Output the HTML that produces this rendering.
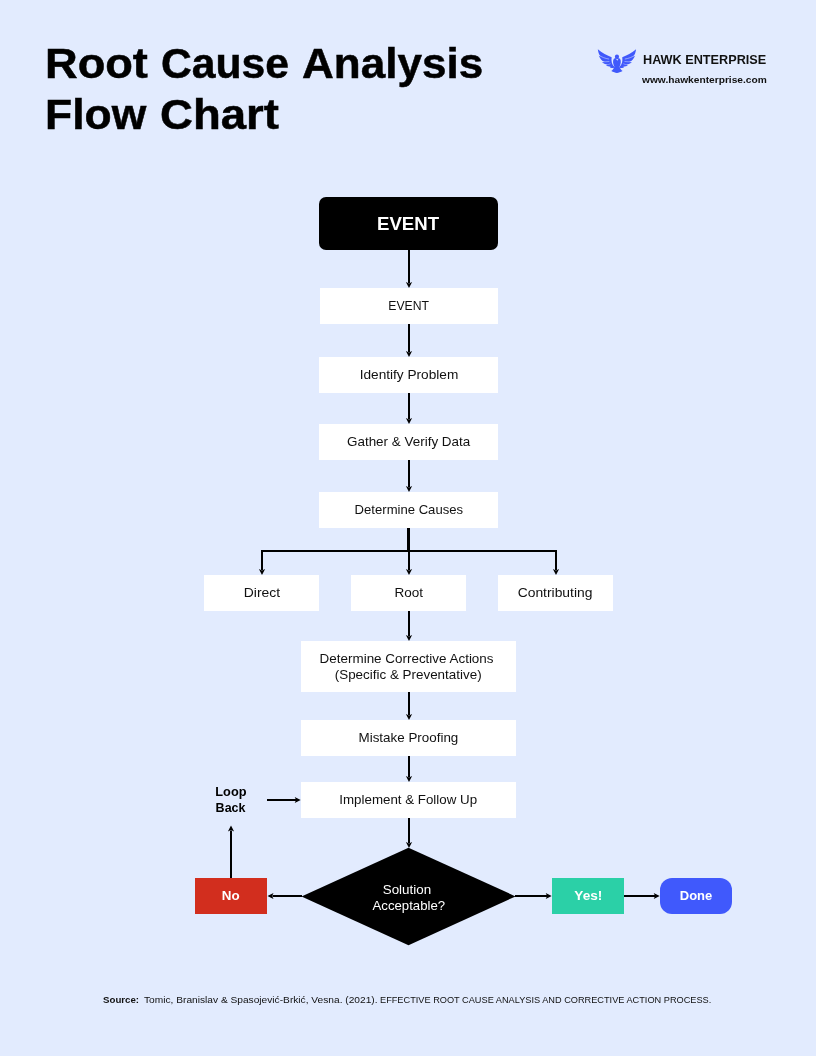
<!DOCTYPE html>
<html lang="en">
<head>
<meta charset="utf-8">
<title>Root Cause Analysis Flow Chart</title>
<style>
html,body{margin:0;padding:0;}
body{width:816px;height:1056px;background:#E2EBFE;position:relative;overflow:hidden;font-family:"Liberation Sans",sans-serif;color:#111;}
.abs{position:absolute;}
#title,.box,#brand,#url,#foot{will-change:transform;}
#title{left:46px;top:39px;font-size:42px;line-height:50.5px;font-weight:bold;color:#000;white-space:nowrap;margin:0;width:460px;height:101px;}
#title .w{position:absolute;display:block;transform-origin:0 0;-webkit-text-stroke:0.5px #000;}
.s{display:inline-block;}
.f{position:absolute;top:0;display:block;transform-origin:0 0;}
.box{position:absolute;background:#fff;display:flex;align-items:center;justify-content:center;text-align:center;font-size:13px;line-height:16px;color:#111;white-space:nowrap;}
.b{font-weight:bold;}
#svg{position:absolute;left:0;top:0;}
.lbl{position:absolute;white-space:nowrap;}
</style>
</head>
<body>
<h1 id="title" class="abs"><span class="w" id="w1" style="left:-0.8px;top:0;transform:scaleX(1.076)">Root</span> <span class="w" id="w2" style="left:115.3px;top:0;transform:scaleX(1.016)">Cause</span> <span class="w" id="w3" style="left:256px;top:0;transform:scaleX(1.049)">Analysis</span> <span class="w" id="w4" style="left:-0.8px;top:50.5px;transform:scaleX(1.058)">Flow</span> <span class="w" id="w5" style="left:113.7px;top:50.5px;transform:scaleX(1.084)">Chart</span></h1>

<svg id="svg" width="816" height="1056" viewBox="0 0 816 1056">
  <defs>
    <path id="ah" d="M0,0 L-3.1,-6 L0,-4.6 L3.1,-6 Z" fill="#000"/>
  </defs>
  <!-- hawk logo placeholder -->
  <g id="hawk" fill="#4059FB" transform="translate(594,44) scale(0.058824)">
    <g id="wingL">
      <path d="M65,88 C130,150 230,195 300,225 C292,290 300,345 345,388 L335,408 C310,408 290,405 270,398 L282,385 C255,385 225,378 205,366 L225,352 C190,345 160,332 135,312 L175,308 C135,285 100,245 80,195 L110,215 C85,180 70,135 65,88 Z"/>
      <path d="M82,188 C130,225 190,245 250,255" stroke="#E2EBFE" stroke-width="9" fill="none" stroke-linecap="round"/>
      <path d="M140,300 C180,305 220,302 255,298" stroke="#E2EBFE" stroke-width="8" fill="none" stroke-linecap="round"/>
      <path d="M215,355 C240,352 260,345 275,338" stroke="#E2EBFE" stroke-width="7" fill="none" stroke-linecap="round"/>
    </g>
    <use href="#wingL" transform="translate(780,0) scale(-1,1)"/>
    <circle cx="390" cy="216" r="36"/>
    <path d="M338,252 C318,280 318,335 346,386 C336,420 316,442 294,458 C330,476 360,489 390,491 C420,489 450,476 486,458 C464,442 444,420 434,386 C462,335 462,280 442,252 C425,236 355,236 338,252 Z"/>
    <path d="M374,250 L397,284 L414,250 L396,260 Z" fill="#E2EBFE"/>
  </g>
  <!-- vertical arrows -->
  <g stroke="#000" stroke-width="2" fill="none">
    <line x1="409" y1="249" x2="409" y2="283"/>
    <line x1="409" y1="324" x2="409" y2="352"/>
    <line x1="409" y1="393" x2="409" y2="419"/>
    <line x1="409" y1="460" x2="409" y2="487"/>
    <line x1="408.5" y1="528" x2="408.5" y2="551" stroke-width="3"/>
    <line x1="409" y1="551" x2="409" y2="570"/>
    <polyline points="262,570 262,551 556,551 556,570"/>
    <line x1="409" y1="611" x2="409" y2="636"/>
    <line x1="409" y1="692" x2="409" y2="715"/>
    <line x1="409" y1="756" x2="409" y2="777"/>
    <line x1="409" y1="818" x2="409" y2="843"/>
    <line x1="267" y1="800" x2="296" y2="800"/>
    <line x1="231" y1="878" x2="231" y2="830.5"/>
    <line x1="302" y1="896" x2="272.5" y2="896"/>
    <line x1="515" y1="896" x2="547" y2="896"/>
    <line x1="624" y1="896" x2="655" y2="896"/>
  </g>
  <use href="#ah" transform="translate(409,288)"/>
  <use href="#ah" transform="translate(409,357)"/>
  <use href="#ah" transform="translate(409,424)"/>
  <use href="#ah" transform="translate(409,492)"/>
  <use href="#ah" transform="translate(409,575)"/>
  <use href="#ah" transform="translate(262,575)"/>
  <use href="#ah" transform="translate(556,575)"/>
  <use href="#ah" transform="translate(409,641)"/>
  <use href="#ah" transform="translate(409,720)"/>
  <use href="#ah" transform="translate(409,782)"/>
  <use href="#ah" transform="translate(409,848)"/>
  <use href="#ah" transform="translate(300.7,800) rotate(-90)"/>
  <use href="#ah" transform="translate(231,825.5) rotate(180)"/>
  <use href="#ah" transform="translate(267.5,896) rotate(90)"/>
  <use href="#ah" transform="translate(551.7,896) rotate(-90)"/>
  <use href="#ah" transform="translate(659.7,896) rotate(-90)"/>
  <!-- diamond -->
  <polygon points="408.5,847.7 515.6,896.4 408.5,945.2 301.5,896.4" fill="#000"/>
</svg>

<div class="abs b" id="brand" style="left:642.8px;top:53.2px;transform-origin:0 0;transform:scaleX(1.014);font-size:12.5px;line-height:15px;white-space:nowrap;color:#111;">HAWK ENTERPRISE</div>
<div class="abs b" id="url" style="left:641.6px;top:73.5px;transform-origin:0 0;transform:scaleX(1.073);font-size:9.5px;line-height:12px;white-space:nowrap;color:#111;">www.hawkenterprise.com</div>

<div class="box b" id="t0" style="left:319px;top:197px;width:179px;height:53px;background:#000;color:#fff;border-radius:7px;font-size:18px;"><span class="s" style="transform:scaleX(1.034);">EVENT</span></div>
<div class="box" id="t1" style="left:320px;top:288px;width:178px;height:36px;"><span class="s" style="transform:scaleX(0.94);">EVENT</span></div>
<div class="box" id="t2" style="left:319px;top:357px;width:179px;height:36px;"><span class="s" style="transform:scaleX(1.05);">Identify Problem</span></div>
<div class="box" id="t3" style="left:319px;top:424px;width:179px;height:36px;"><span class="s" style="transform:scaleX(1.034);">Gather &amp; Verify Data</span></div>
<div class="box" id="t4" style="left:319px;top:492px;width:179px;height:36px;"><span class="s" style="transform:scaleX(1.007);">Determine Causes</span></div>
<div class="box" id="t5" style="left:204px;top:575px;width:115px;height:36px;"><span class="s" style="transform:scaleX(1.07);">Direct</span></div>
<div class="box" id="t6" style="left:351px;top:575px;width:115px;height:36px;"><span class="s" style="transform:scaleX(1.04);">Root</span></div>
<div class="box" id="t7" style="left:498px;top:575px;width:115px;height:36px;"><span class="s" style="transform:scaleX(1.066);">Contributing</span></div>
<div class="box" id="t8" style="left:301px;top:641px;width:215px;height:51px;"><div><span class="s" style="transform:translateX(-1.6px) scaleX(1.033);">Determine Corrective Actions</span><br><span class="s" style="transform:scaleX(1.032);">(Specific &amp; Preventative)</span></div></div>
<div class="box" id="t9" style="left:301px;top:720px;width:215px;height:36px;"><span class="s" style="transform:scaleX(1.03);">Mistake Proofing</span></div>
<div class="box" id="t10" style="left:301px;top:782px;width:215px;height:36px;"><span class="s" style="transform:scaleX(1.025);">Implement &amp; Follow Up</span></div>
<div class="box" id="t11" style="left:302px;top:880px;width:213px;height:36px;background:transparent;color:#fff;"><div><span class="s" style="transform:translateX(-1.6px) scaleX(1.03);">Solution</span><br><span class="s" style="transform:scaleX(1.014);">Acceptable?</span></div></div>
<div class="box b" id="t12" style="left:195px;top:878px;width:72px;height:36px;background:#D22E1E;color:#fff;"><span class="s" style="transform:scaleX(1.03);">No</span></div>
<div class="box b" id="t13" style="left:552px;top:878px;width:72px;height:36px;background:#2BD0A7;color:#fff;"><span class="s" style="transform:scaleX(1.05);">Yes!</span></div>
<div class="box b" id="t14" style="left:660px;top:878px;width:72px;height:36px;background:#4059FC;color:#fff;border-radius:12px;">Done</div>
<div class="box b" id="t15" style="left:195px;top:784px;width:72px;height:32px;background:transparent;color:#000;"><div><span class="s" style="transform:scaleX(0.98);">Loop</span><br><span class="s" style="transform:scaleX(0.96);">Back</span></div></div>

<div class="abs" id="foot" style="left:0;top:993px;width:816px;height:14px;font-size:9.5px;line-height:14px;white-space:nowrap;color:#111;"><span class="f b" id="f1" style="left:103.2px;transform:scaleX(1.02)">Source:</span> <span class="f" id="f2" style="left:143.9px;transform:scaleX(1.071)">Tomic, Branislav &amp; Spasojević-Brkić, Vesna. (2021).</span> <span class="f" id="f3" style="left:380.4px;transform:scaleX(0.968)">EFFECTIVE ROOT CAUSE ANALYSIS AND CORRECTIVE ACTION PROCESS.</span></div>
</body>
</html>
